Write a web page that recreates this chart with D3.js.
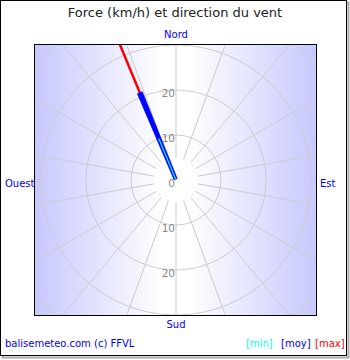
<!DOCTYPE html>
<html>
<head>
<meta charset="utf-8">
<script src="https://cdn.jsdelivr.net/npm/d3@7"></script>
<style>
  body { margin: 0; background: #fff; }
  text { font-family: "DejaVu Sans", sans-serif; }
</style>
</head>
<body>
<div id="chart"></div>
<script>
// chart values
let cardinals = ["Nord", "Est", "Sud", "Ouest"];
let ringTicks = [0, 10, 20];
let ringValues = [10, 20, 30, 40];
let windDirection = [337.5];   // degrees, from north clockwise
let windMin = [10];
let windMoy = [21];
let windMax = [36];
let legendLabels = ["[min]", "[moy]", "[max]"];
let legendColors = ["#00ffff", "#0000ff", "#ff0000"];

let svgWidth = 350;
let svgHeight = 360;

// plot area
let plot = { left: 35, top: 45, width: 281, height: 270 };
let cx = 176;
let cy = 180;

let svg = d3.select("#chart")
  .append("svg")
  .attr("width", svgWidth)
  .attr("height", svgHeight);

// outer frame with a small shadow
svg.append("rect")
  .attr("x", 2.5).attr("y", 2.5)
  .attr("width", 346).attr("height", 355)
  .attr("fill", "none").attr("stroke", "#aaaaaa").attr("stroke-width", 2);
svg.append("rect")
  .attr("x", 0.5).attr("y", 0.5)
  .attr("width", 346).attr("height", 355)
  .attr("fill", "#fff").attr("stroke", "#000");

// title
svg.append("text")
  .attr("x", 175).attr("y", 17)
  .attr("text-anchor", "middle")
  .attr("font-size", "13px")
  .attr("fill", "#222")
  .text("Force (km/h) et direction du vent");

// background gradient
let defs = svg.append("defs");
let grad = defs.append("linearGradient").attr("id", "bg")
  .attr("x1", "0%").attr("x2", "100%").attr("y1", "0%").attr("y2", "0%");
grad.append("stop").attr("offset", "0%").attr("stop-color", "#c8c8ff");
grad.append("stop").attr("offset", "45%").attr("stop-color", "#ffffff");
grad.append("stop").attr("offset", "55%").attr("stop-color", "#ffffff");
grad.append("stop").attr("offset", "100%").attr("stop-color", "#c8c8ff");

defs.append("clipPath").attr("id", "clip")
  .append("rect")
  .attr("x", plot.left).attr("y", plot.top)
  .attr("width", plot.width).attr("height", plot.height);

svg.append("rect")
  .attr("x", plot.left).attr("y", plot.top)
  .attr("width", plot.width).attr("height", plot.height)
  .attr("fill", "url(#bg)");

// radial scale
let rScale = d3.scaleLinear().domain([0, 30]).range([0, 135]);
let toXY = (deg, v) => {
  let a = (deg - 90) * Math.PI / 180;
  return [cx + rScale(v) * Math.cos(a), cy + rScale(v) * Math.sin(a)];
};

let grid = svg.append("g").attr("clip-path", "url(#clip)");

grid.selectAll("circle")
  .data(ringValues)
  .enter()
  .append("circle")
  .attr("cx", cx).attr("cy", cy)
  .attr("r", d => rScale(d))
  .attr("fill", "none")
  .attr("stroke", "#cccccc");

let spokes = d3.range(0, 360, 20);
grid.selectAll("line")
  .data(spokes)
  .enter()
  .append("line")
  .attr("x1", d => toXY(d, 5)[0])
  .attr("y1", d => toXY(d, 5)[1])
  .attr("x2", d => toXY(d, 45)[0])
  .attr("y2", d => toXY(d, 45)[1])
  .attr("stroke", "#cccccc");

// ring labels on the vertical axis
let tickData = [];
ringTicks.forEach(t => {
  tickData.push({ v: t, y: cy - rScale(t) + 7 });
  if (t > 0) tickData.push({ v: t, y: cy + rScale(t) + 7 });
});
svg.append("g").selectAll("text")
  .data(tickData)
  .enter()
  .append("text")
  .attr("x", cx - 1)
  .attr("y", d => d.y)
  .attr("text-anchor", "end")
  .attr("font-size", "10.5px")
  .attr("fill", "#888888")
  .text(d => d.v);

// wind marks
let windGroup = svg.append("g").attr("clip-path", "url(#clip)");

windDirection.forEach((dir, i) => {
  let a = (dir - 90) * Math.PI / 180;
  let px = -Math.sin(a), py = Math.cos(a);
  let start = toXY(dir, 0.2);
  let end = toXY(dir, windMoy[i]);
  let maxEnd = toXY(dir, windMax[i]);

  windGroup.append("line")
    .attr("x1", end[0]).attr("y1", end[1])
    .attr("x2", maxEnd[0]).attr("y2", maxEnd[1])
    .attr("stroke", "#ff0000")
    .attr("stroke-width", 2.5);

  let w0 = 1.6, w1 = 2.6;
  let pts = [
    [start[0] + px * w0, start[1] + py * w0],
    [end[0] + px * w1, end[1] + py * w1],
    [end[0] - px * w1, end[1] - py * w1],
    [start[0] - px * w0, start[1] - py * w0]
  ];
  windGroup.append("polygon")
    .attr("points", pts.map(p => p.join(",")).join(" "))
    .attr("fill", "#0000ff")
    .attr("stroke", "#0000ff")
    .attr("stroke-width", 0.8);

  let minEnd = toXY(dir, windMin[i]);
  windGroup.append("line")
    .attr("x1", start[0]).attr("y1", start[1])
    .attr("x2", minEnd[0]).attr("y2", minEnd[1])
    .attr("stroke", "#00ffff")
    .attr("stroke-width", 1.2);
});

// plot border
svg.append("rect")
  .attr("x", plot.left - 0.5).attr("y", plot.top - 0.5)
  .attr("width", plot.width + 1).attr("height", plot.height + 1)
  .attr("fill", "none")
  .attr("stroke", "#000");

// cardinal labels
let cardPos = [
  { x: cx, y: 38, anchor: "middle" },
  { x: 320, y: 187, anchor: "start" },
  { x: cx, y: 328, anchor: "middle" },
  { x: 5, y: 187, anchor: "start" }
];
svg.append("g").selectAll("text")
  .data(cardinals)
  .enter()
  .append("text")
  .attr("x", (d, i) => cardPos[i].x)
  .attr("y", (d, i) => cardPos[i].y)
  .attr("text-anchor", (d, i) => cardPos[i].anchor)
  .attr("font-size", "10px")
  .attr("fill", "#0000ff")
  .text(d => d);

// footer
svg.append("text")
  .attr("x", 5).attr("y", 347)
  .attr("font-size", "10px")
  .attr("fill", "#0000ff")
  .text("balisemeteo.com (c) FFVL");

let legendX = [246, 281, 315];
svg.append("g").selectAll("text")
  .data(legendLabels)
  .enter()
  .append("text")
  .attr("x", (d, i) => legendX[i])
  .attr("y", 347)
  .attr("font-size", "10px")
  .attr("fill", (d, i) => legendColors[i])
  .text(d => d);
</script>
</body>
</html>
